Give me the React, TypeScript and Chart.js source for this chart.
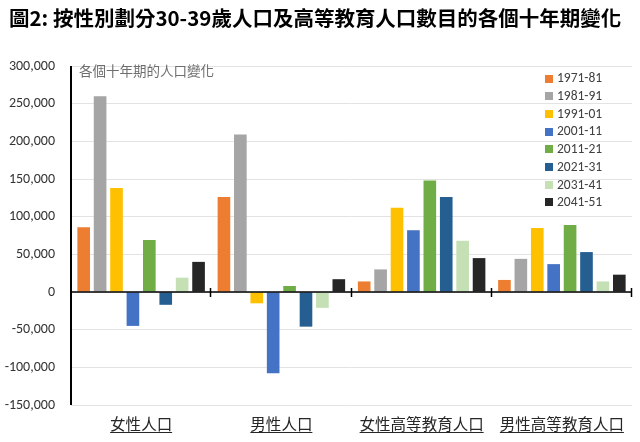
import React, { useEffect, useRef } from "react";
import { Chart, registerables } from "chart.js";

Chart.register(...registerables);

const titleText = "圖2: 按性別劃分30-39歲人口及高等教育人口數目的各個十年期變化";
const subtitleText = "各個十年期的人口變化";
const categories = ["女性人口", "男性人口", "女性高等教育人口", "男性高等教育人口"];
const seriesLabels = ["1971-81", "1981-91", "1991-01", "2001-11", "2011-21", "2021-31", "2031-41", "2041-51"];
const seriesColors = ["#ED7D31", "#A5A5A5", "#FFC000", "#4472C4", "#70AD47", "#255E91", "#C5E0B4", "#262626"];

const s1971 = [86000, 126000, 14000, 16000];
const s1981 = [260000, 209000, 30000, 44000];
const s1991 = [138000, -15000, 112000, 85000];
const s2001 = [-45000, -108000, 82000, 37000];
const s2011 = [69000, 8000, 148000, 89000];
const s2021 = [-17000, -46000, 126000, 53000];
const s2031 = [19000, -21000, 68000, 14000];
const s2041 = [40000, 17000, 45000, 23000];
const seriesValues = [s1971, s1981, s1991, s2001, s2011, s2021, s2031, s2041];

const yMin = -150000;
const yMax = 300000;
const yStep = 50000;

const CJK = "'Noto Sans CJK TC', 'Noto Sans CJK SC', sans-serif";
const LATIN = "Carlito, Lato, 'Open Sans', sans-serif";

const decorPlugin = {
  id: "decor",
  afterDatasetsDraw(chart: any) {
    const ctx = chart.ctx;
    const area = chart.chartArea;
    const x = chart.scales.x;
    const y = chart.scales.y;
    ctx.save();

    // title
    ctx.fillStyle = "#000";
    ctx.textBaseline = "middle";
    ctx.textAlign = "left";
    ctx.font = "bold 20.5px 'Liberation Sans Narrow', " + CJK;
    ctx.fillText(titleText, 9, 18);

    // subtitle inside plot
    ctx.fillStyle = "#6E6E6E";
    ctx.font = "13.5px " + CJK;
    ctx.fillText(subtitleText, 79, 71);

    // y axis line
    ctx.strokeStyle = "#000";
    ctx.lineWidth = 2;
    ctx.beginPath();
    ctx.moveTo(area.left, area.top);
    ctx.lineTo(area.left, area.bottom);
    ctx.stroke();

    // zero line with cross ticks at category boundaries
    const y0 = y.getPixelForValue(0);
    ctx.lineWidth = 1.5;
    ctx.beginPath();
    ctx.moveTo(area.left, y0);
    ctx.lineTo(area.right, y0);
    ctx.stroke();
    const n = categories.length;
    const w = (area.right - area.left) / n;
    ctx.lineWidth = 1.5;
    for (let i = 1; i <= n; i++) {
      const bx = Math.round(area.left + w * i) - 0.5;
      ctx.beginPath();
      ctx.moveTo(bx, y0 - 4);
      ctx.lineTo(bx, y0 + 5);
      ctx.stroke();
    }

    // category labels, underlined
    ctx.font = "15.5px " + CJK;
    ctx.fillStyle = "#262626";
    ctx.strokeStyle = "#262626";
    ctx.lineWidth = 1;
    ctx.textAlign = "center";
    categories.forEach((c, i) => {
      const cx = x.getPixelForValue(i);
      ctx.fillText(c, cx, 424);
      const tw = ctx.measureText(c).width;
      ctx.beginPath();
      ctx.moveTo(cx - tw / 2, 432.5);
      ctx.lineTo(cx + tw / 2, 432.5);
      ctx.stroke();
    });

    // legend
    ctx.textAlign = "left";
    ctx.font = "13.5px " + LATIN;
    seriesLabels.forEach((lab, i) => {
      const cy = 78.5 + i * 17.7;
      ctx.fillStyle = seriesColors[i];
      ctx.fillRect(545, Math.round(cy - 4), 8, 8);
      ctx.fillStyle = "#404040";
      ctx.fillText(lab, 557, cy + 0.5);
    });

    ctx.restore();
  },
};

export default function App() {
  const ref = useRef<HTMLCanvasElement | null>(null);
  useEffect(() => {
    document.body.style.margin = "0";
    const canvas = ref.current;
    if (!canvas) return;
    const chart = new Chart(canvas, {
      type: "bar",
      data: {
        labels: categories,
        datasets: seriesValues.map((vals, i) => ({
          label: seriesLabels[i],
          data: vals,
          backgroundColor: seriesColors[i],
          borderWidth: 0,
          categoryPercentage: 0.936,
          barPercentage: 0.77,
        })),
      },
      options: {
        responsive: false,
        animation: false,
        devicePixelRatio: 1,
        layout: { padding: { left: 0, top: 66, right: 8, bottom: 37 } },
        plugins: {
          legend: { display: false },
          title: { display: false },
          tooltip: { enabled: false },
        },
        scales: {
          x: { display: false },
          y: {
            min: yMin,
            max: yMax,
            afterFit: (scale: any) => {
              scale.width = 71;
            },
            ticks: {
              stepSize: yStep,
              padding: 16,
              color: "#333333",
              font: { family: LATIN, size: 14 },
              callback: (v: any) => Number(v).toLocaleString("en-US"),
            },
            grid: { color: "#E3E3E3", drawTicks: false, lineWidth: 1 },
            border: { display: false },
          },
        },
      },
      plugins: [decorPlugin],
    });
    return () => chart.destroy();
  }, []);
  return <canvas ref={ref} width={640} height={442} style={{ display: "block" }} />;
}
